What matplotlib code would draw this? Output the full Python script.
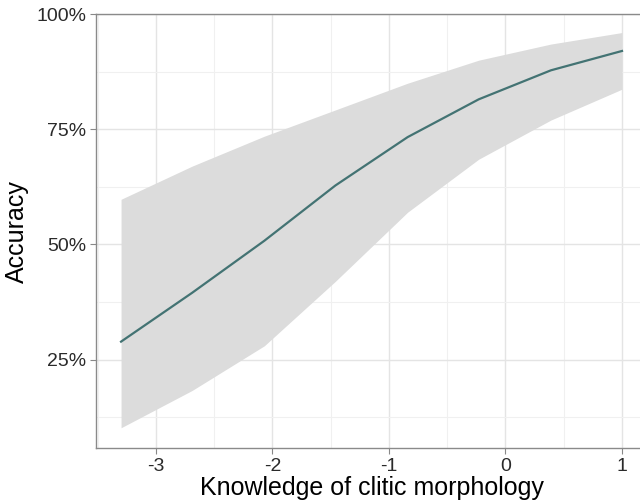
import matplotlib
matplotlib.use("Agg")
from matplotlib import pyplot as plt
from matplotlib.ticker import FuncFormatter, MultipleLocator

knowledge = [-3.3, -2.69, -2.07, -1.46, -0.84, -0.23, 0.39, 1.0]
accuracy = [0.289, 0.395, 0.508, 0.628, 0.733, 0.815, 0.878, 0.92]
upper = [0.598, 0.67, 0.735, 0.792, 0.85, 0.90, 0.935, 0.96]
lower = [0.102, 0.183, 0.28, 0.42, 0.57, 0.685, 0.77, 0.837]

y_ticks = [0.25, 0.5, 0.75, 1.0]
x_ticks = [-3, -2, -1, 0, 1]

plt.rcParams['font.family'] = ['Liberation Sans', 'DejaVu Sans']

fig = plt.figure(figsize=(6.4, 5.04), dpi=100)
ax = fig.add_axes([0.15, 0.111, 0.861, 0.861])

ax.fill_between(knowledge, lower, upper, color='#dcdcdc', lw=0, zorder=2)
ax.plot(knowledge, accuracy, color='#437373', lw=1.6, zorder=3)

ax.set_xlim(-3.515, 1.215)
ax.set_ylim(0.058, 1.0)
ax.set_xticks(x_ticks)
ax.set_yticks(y_ticks)
ax.xaxis.set_minor_locator(MultipleLocator(0.5))
ax.yaxis.set_minor_locator(MultipleLocator(0.125))
ax.yaxis.set_major_formatter(FuncFormatter(lambda v, p: f"{v*100:.0f}%"))
ax.set_xticklabels([str(t) for t in x_ticks])

ax.grid(which='major', color='#e4e4e4', lw=1.0, zorder=1)
ax.grid(which='minor', color='#f0f0f0', lw=0.8, zorder=1)
ax.set_axisbelow(True)
ax.tick_params(which='minor', length=0)
ax.tick_params(which='major', length=4, color='#888888', labelsize=14,
               labelcolor='#2a2a2a', pad=3)
for s in ax.spines.values():
    s.set_color('#8a8a8a')
    s.set_linewidth(1.0)

ax.set_xlabel('Knowledge of clitic morphology', fontsize=18, labelpad=1)
ax.set_ylabel('Accuracy', fontsize=18, labelpad=5)

fig.savefig('out.png', dpi=100)
